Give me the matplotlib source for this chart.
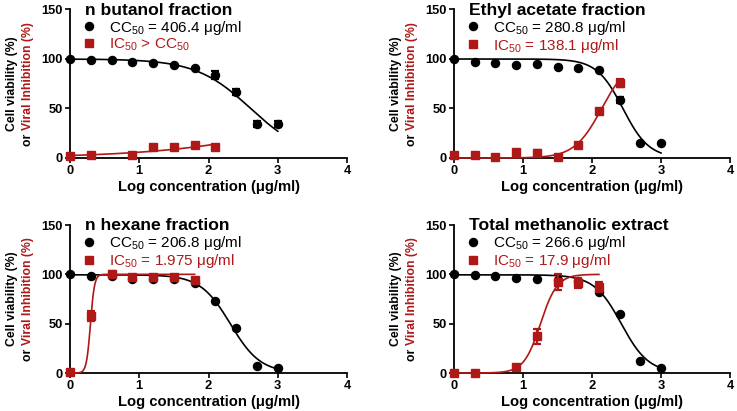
import numpy as np
import matplotlib
matplotlib.use("Agg")
import matplotlib.pyplot as plt
from matplotlib.lines import Line2D

plt.rcParams['font.family'] = ['Liberation Sans', 'DejaVu Sans']
plt.rcParams['mathtext.fontset'] = 'custom'
plt.rcParams['mathtext.rm'] = 'Liberation Sans'
plt.rcParams['mathtext.default'] = 'regular'

RED = '#B01818'

# ---------------- data ----------------
titles = ["n butanol fraction", "Ethyl acetate fraction",
          "n hexane fraction", "Total methanolic extract"]
cc_labels = [r"CC$_{50}$ = 406.4 μg/ml", r"CC$_{50}$ = 280.8 μg/ml",
             r"CC$_{50}$ = 206.8 μg/ml", r"CC$_{50}$ = 266.6 μg/ml"]
ic_labels = [r"IC$_{50}$ > CC$_{50}$", r"IC$_{50}$ = 138.1 μg/ml",
             r"IC$_{50}$ = 1.975 μg/ml", r"IC$_{50}$ = 17.9 μg/ml"]

# cell viability (black)
via_x = [
    [0, 0.3, 0.6, 0.9, 1.2, 1.5, 1.8, 2.1, 2.4, 2.7, 3.0],
    [0, 0.3, 0.6, 0.9, 1.2, 1.5, 1.8, 2.1, 2.4, 2.7, 3.0],
    [0, 0.3, 0.6, 0.9, 1.2, 1.5, 1.8, 2.1, 2.4, 2.7, 3.0],
    [0, 0.3, 0.6, 0.9, 1.2, 1.5, 1.8, 2.1, 2.4, 2.7, 3.0],
]
via_y = [
    [100, 99, 99, 97, 96, 94, 91, 84, 67, 34, 34],
    [100, 97, 96, 94, 95, 92, 91, 89, 59, 15, 15],
    [100, 98, 98, 95, 95, 95, 91, 73, 46, 7, 5],
    [100, 99, 98, 96, 95, 94, 93, 82, 60, 12, 5],
]
via_err = [
    [0, 0, 0, 0, 0, 0, 0, 4, 3, 3, 3],
    [0, 0, 0, 0, 0, 0, 0, 0, 3, 0, 0],
    [0, 0, 0, 0, 0, 0, 0, 0, 0, 0, 0],
    [0, 0, 0, 0, 0, 0, 0, 0, 0, 0, 0],
]

# viral inhibition (red)
inh_x = [
    [0, 0.3, 0.9, 1.2, 1.5, 1.8, 2.1],
    [0, 0.3, 0.6, 0.9, 1.2, 1.5, 1.8, 2.1, 2.4],
    [0, 0.3, 0.6, 0.9, 1.2, 1.5, 1.8],
    [0, 0.3, 0.9, 1.2, 1.5, 1.8, 2.1],
]
inh_y = [
    [2, 3, 3, 11, 11, 13, 11],
    [3, 3, 1, 6, 5, 1, 13, 47, 76],
    [1, 58, 100, 97, 97, 97, 94],
    [0, 0, 6, 37, 92, 91, 87],
]
inh_err = [
    [0, 0, 0, 0, 0, 0, 0],
    [0, 0, 0, 0, 3, 0, 0, 0, 4],
    [0, 5, 3, 0, 0, 0, 0],
    [0, 0, 0, 8, 8, 5, 5],
]

# four-parameter logistic fits: bottom, top, logEC50, hill, x range end
via_fit = [
    (0, 100, 2.609, 1.10, 3.0),
    (0, 100, 2.448, 2.30, 3.0),
    (0, 99.5, 2.316, 2.00, 3.0),
    (0, 99.5, 2.426, 2.20, 3.0),
]
inh_fit = [
    (0, 100, 4.16, 0.382, 2.1),
    (0, 100, 2.140, 2.20, 2.4),
    (0, 100, 0.2956, 15.0, 1.8),
    (0, 100, 1.253, 3.60, 2.1),
]

x_ticks = [0, 1, 2, 3, 4]
y_ticks = [0, 50, 100, 150]

# ---------------- layout ----------------
W, H = 737, 411
fig = plt.figure(figsize=(W / 100, H / 100), dpi=100)
boxes = [  # left, top, right, bottom in pixels
    (70, 9.5, 347, 158),
    (454, 9.5, 730, 158),
    (70, 225, 347, 373),
    (454, 225, 730, 373),
]

for i, (l, t, r, b) in enumerate(boxes):
    ax = fig.add_axes([l / W, 1 - b / H, (r - l) / W, (b - t) / H])
    ax.set_xlim(0, 4)
    ax.set_ylim(0, 150)
    for s in ['top', 'right']:
        ax.spines[s].set_visible(False)
    for s in ['left', 'bottom']:
        ax.spines[s].set_linewidth(1.3)
    ax.set_xticks(x_ticks)
    ax.set_yticks(y_ticks)
    ax.tick_params(direction='out', length=3.5, width=1.2, pad=1.5,
                   labelsize=9.3)
    for lab in ax.get_xticklabels() + ax.get_yticklabels():
        lab.set_fontweight('bold')
    ax.set_xlabel("Log concentration (μg/ml)", fontsize=10.6,
                  fontweight='bold', labelpad=2)

    # fits
    bt, tp, ec, h, xe = via_fit[i]
    xs = np.linspace(0, xe, 300)
    ax.plot(xs, bt + (tp - bt) / (1 + 10 ** ((xs - ec) * h)),
            color='black', lw=1.2, zorder=2, clip_on=False)
    bt, tp, ec, h, xe = inh_fit[i]
    xs = np.linspace(0, xe, 300)
    ax.plot(xs, bt + (tp - bt) / (1 + 10 ** ((ec - xs) * h)),
            color=RED, lw=1.2, zorder=3, clip_on=False)

    # points
    ax.errorbar(via_x[i], via_y[i], yerr=via_err[i], fmt='o', color='black',
                ms=5.8, elinewidth=1.6, capsize=3, capthick=1.6,
                zorder=4, clip_on=False)
    ax.errorbar(inh_x[i], inh_y[i], yerr=inh_err[i], fmt='s', color=RED,
                ms=5.8, elinewidth=1.6, capsize=3, capthick=1.6,
                zorder=5, clip_on=False)

    # title
    ax.text(15 / (r - l), 0.995, titles[i], transform=ax.transAxes,
            fontsize=12.6, fontweight='bold', ha='left', va='center')

    # legend
    handles = [Line2D([], [], marker='o', ls='none', color='black', ms=5.8),
               Line2D([], [], marker='s', ls='none', color=RED, ms=5.8)]
    leg = ax.legend(handles, [cc_labels[i], ic_labels[i]], loc='upper left',
                    bbox_to_anchor=(5 / (r - l), 1 - 3 / (b - t)),
                    frameon=False, fontsize=11, handlelength=1.05,
                    handletextpad=0.8, labelspacing=0.0, borderpad=0.4,
                    borderaxespad=0)
    leg.get_texts()[1].set_color(RED)

    # y label (two lines, second one partly red)
    cy = 1 - ((t + b) / 2) / H
    fig.text((l - 58) / W, cy, "Cell viability (%)", rotation=90,
             ha='center', va='center', fontsize=8.8, fontweight='bold')
    full = fig.text((l - 42) / W, cy, "or Viral Inhibition (%)", rotation=90,
                    ha='center', va='center', fontsize=8.8,
                    fontweight='bold', alpha=0)
    ax.annotate("or ", xy=(0.5, 0), xycoords=full, rotation=90,
                ha='center', va='bottom', fontsize=8.8, fontweight='bold',
                color='black', annotation_clip=False)
    ax.annotate("Viral Inhibition (%)", xy=(0.5, 1), xycoords=full,
                rotation=90, ha='center', va='top', fontsize=8.8,
                fontweight='bold', color=RED, annotation_clip=False)

fig.savefig("out.png", dpi=100)
